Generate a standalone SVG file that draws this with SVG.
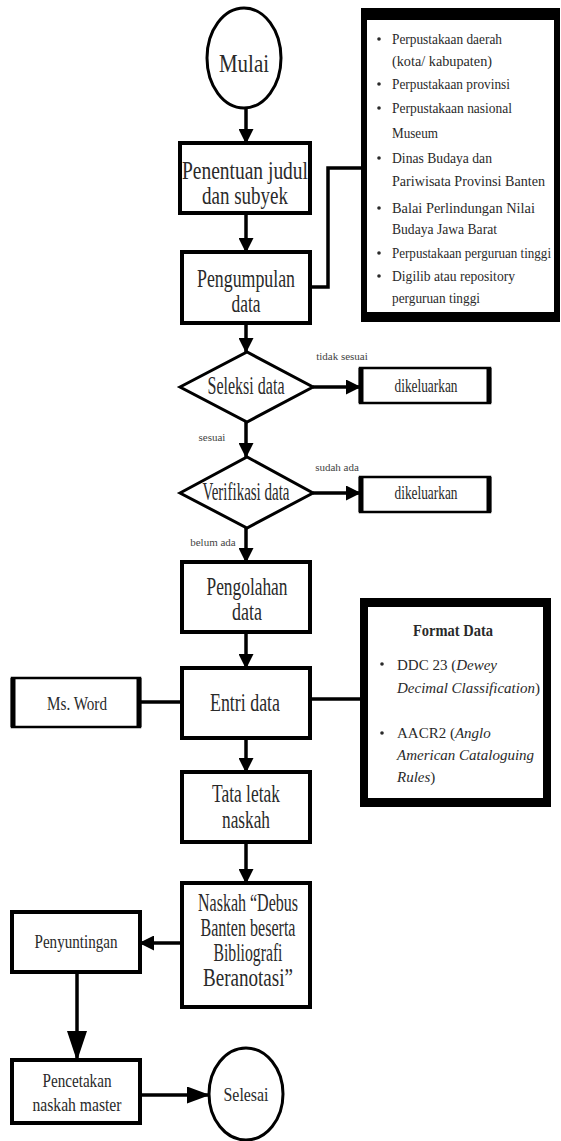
<svg xmlns="http://www.w3.org/2000/svg" width="561" height="1141" viewBox="0 0 561 1141">
<style>
.box{fill:#fff;stroke:#000;stroke-width:4}
.thin{fill:#fff;stroke:#000;stroke-width:2.5}
.side{stroke:#000;stroke-width:5}
.dia{fill:#fff;stroke:#000;stroke-width:3}
.ln{fill:none;stroke:#000;stroke-width:3.5}
.t{font-family:"Liberation Serif",serif;fill:#2a2a2a;text-anchor:middle}
.n{font-size:25px}
.s{font-size:19px}
.l{font-size:14px;text-anchor:start}
.f{font-size:15px;text-anchor:start}
.i{font-style:italic}
.lab{font-size:11px;fill:#444}
</style>
<defs>
<marker id="ah" viewBox="0 0 15 15" refX="14" refY="7.5" markerWidth="15" markerHeight="15" markerUnits="userSpaceOnUse" orient="auto"><path d="M0,0 L15,7.5 L0,15 z" fill="#000"/></marker>
<marker id="ahM" viewBox="0 0 23 17" refX="22" refY="8.5" markerWidth="23" markerHeight="17" markerUnits="userSpaceOnUse" orient="auto"><path d="M0,0 L23,8.5 L0,17 z" fill="#000"/></marker>
<marker id="ahL" viewBox="0 0 30 20" refX="29" refY="10" markerWidth="30" markerHeight="20" markerUnits="userSpaceOnUse" orient="auto"><path d="M0,0 L30,10 L0,20 z" fill="#000"/></marker>
</defs>

<g id="connectors">
<line class="ln" x1="246" y1="108" x2="246" y2="143" marker-end="url(#ah)"/>
<line class="ln" x1="246" y1="213" x2="246" y2="252" marker-end="url(#ah)"/>
<polyline class="ln" points="310,287 328,287 328,168 363,168"/>
<line class="ln" x1="246" y1="323" x2="246" y2="352" marker-end="url(#ah)"/>
<line class="ln" x1="313" y1="387" x2="360" y2="387" marker-end="url(#ah)"/>
<line class="ln" x1="246" y1="422" x2="246" y2="457" marker-end="url(#ah)"/>
<line class="ln" x1="313" y1="493" x2="360" y2="493" marker-end="url(#ah)"/>
<line class="ln" x1="246" y1="528" x2="246" y2="562" marker-end="url(#ah)"/>
<line class="ln" x1="246" y1="632" x2="246" y2="668" marker-end="url(#ah)"/>
<line class="ln" x1="140" y1="702" x2="182" y2="702"/>
<line class="ln" x1="310" y1="699" x2="362" y2="699"/>
<line class="ln" x1="246" y1="738" x2="246" y2="772" marker-end="url(#ah)"/>
<line class="ln" x1="246" y1="842" x2="246" y2="883" marker-end="url(#ah)"/>
<line class="ln" x1="182" y1="943" x2="140" y2="943" marker-end="url(#ah)"/>
<line class="ln" x1="77" y1="972" x2="77" y2="1060" marker-end="url(#ahL)"/>
<line class="ln" x1="140" y1="1095" x2="209" y2="1095" marker-end="url(#ahM)"/>
<text class="t lab" x="342" y="360">tidak sesuai</text>
<text class="t lab" x="212" y="441">sesuai</text>
<text class="t lab" x="337" y="471">sudah ada</text>
<text class="t lab" x="213" y="546">belum ada</text>
</g>

<g id="mulai">
<ellipse cx="244" cy="58" rx="37" ry="50" fill="#fff" stroke="#000" stroke-width="3"/>
<text class="t n" x="244" y="72" textLength="50" lengthAdjust="spacingAndGlyphs">Mulai</text>
</g>

<g id="penentuan">
<rect class="box" x="180" y="143" width="130" height="70"/>
<text class="t n" x="245" y="179" font-size="24" textLength="126" lengthAdjust="spacingAndGlyphs">Penentuan judul</text>
<text class="t n" x="245" y="204" font-size="24" textLength="86" lengthAdjust="spacingAndGlyphs">dan subyek</text>
</g>

<g id="pengumpulan">
<rect class="box" x="182" y="252" width="128" height="71"/>
<text class="t n" x="246" y="287" textLength="98" lengthAdjust="spacingAndGlyphs">Pengumpulan</text>
<text class="t n" x="246" y="312" textLength="29" lengthAdjust="spacingAndGlyphs">data</text>
</g>

<g id="sumber">
<rect x="361" y="8" width="199" height="314" fill="#000"/>
<rect x="367" y="20" width="187" height="292" fill="#fff"/>
<g fill="#2a2a2a">
<circle cx="379" cy="39" r="1.8"/>
<circle cx="379" cy="84" r="1.8"/>
<circle cx="379" cy="108" r="1.8"/>
<circle cx="379" cy="158" r="1.8"/>
<circle cx="379" cy="208" r="1.8"/>
<circle cx="379" cy="253" r="1.8"/>
<circle cx="379" cy="276" r="1.8"/>
</g>
<text class="t l" x="392" y="44" textLength="110" lengthAdjust="spacingAndGlyphs">Perpustakaan daerah</text>
<text class="t l" x="392" y="66" textLength="100" lengthAdjust="spacingAndGlyphs">(kota/ kabupaten)</text>
<text class="t l" x="392" y="89" textLength="118" lengthAdjust="spacingAndGlyphs">Perpustakaan provinsi</text>
<text class="t l" x="392" y="113" textLength="120" lengthAdjust="spacingAndGlyphs">Perpustakaan nasional</text>
<text class="t l" x="392" y="138" textLength="46" lengthAdjust="spacingAndGlyphs">Museum</text>
<text class="t l" x="392" y="163" textLength="100" lengthAdjust="spacingAndGlyphs">Dinas Budaya dan</text>
<text class="t l" x="392" y="186" textLength="153" lengthAdjust="spacingAndGlyphs">Pariwisata Provinsi Banten</text>
<text class="t l" x="392" y="213" textLength="143" lengthAdjust="spacingAndGlyphs">Balai Perlindungan Nilai</text>
<text class="t l" x="392" y="234" textLength="105" lengthAdjust="spacingAndGlyphs">Budaya Jawa Barat</text>
<text class="t l" x="392" y="258" font-size="13.5" textLength="159" lengthAdjust="spacingAndGlyphs">Perpustakaan perguruan tinggi</text>
<text class="t l" x="392" y="281" textLength="123" lengthAdjust="spacingAndGlyphs">Digilib atau repository</text>
<text class="t l" x="392" y="303" textLength="88" lengthAdjust="spacingAndGlyphs">perguruan tinggi</text>
</g>

<g id="seleksi">
<polygon class="dia" points="180,387 247,352 313,387 247,422"/>
<text class="t n" x="246" y="394" font-size="23" textLength="77" lengthAdjust="spacingAndGlyphs">Seleksi data</text>
</g>

<g id="dikeluarkan1">
<rect class="thin" x="360" y="368" width="130" height="35"/>
<line class="side" x1="361" y1="368" x2="361" y2="403"/>
<line class="side" x1="489" y1="368" x2="489" y2="403"/>
<text class="t s" x="426" y="392" textLength="63" lengthAdjust="spacingAndGlyphs">dikeluarkan</text>
</g>

<g id="verifikasi">
<polygon class="dia" points="180,493 247,457 313,493 247,528"/>
<text class="t n" x="246" y="500" font-size="23" textLength="87" lengthAdjust="spacingAndGlyphs">Verifikasi data</text>
</g>

<g id="dikeluarkan2">
<rect class="thin" x="360" y="477" width="130" height="35"/>
<line class="side" x1="361" y1="477" x2="361" y2="512"/>
<line class="side" x1="489" y1="477" x2="489" y2="512"/>
<text class="t s" x="426" y="499" textLength="63" lengthAdjust="spacingAndGlyphs">dikeluarkan</text>
</g>

<g id="pengolahan">
<rect class="box" x="182" y="562" width="128" height="70"/>
<text class="t n" x="247" y="595" textLength="81" lengthAdjust="spacingAndGlyphs">Pengolahan</text>
<text class="t n" x="247" y="620" textLength="30" lengthAdjust="spacingAndGlyphs">data</text>
</g>

<g id="msword">
<rect class="thin" x="12" y="678" width="128" height="49"/>
<line class="side" x1="13" y1="678" x2="13" y2="727"/>
<line class="side" x1="139" y1="678" x2="139" y2="727"/>
<text class="t s" x="77" y="710" font-size="21" textLength="60" lengthAdjust="spacingAndGlyphs">Ms. Word</text>
</g>

<g id="entri">
<rect class="box" x="182" y="668" width="128" height="70"/>
<text class="t n" x="245" y="711" textLength="70" lengthAdjust="spacingAndGlyphs">Entri data</text>
</g>

<g id="format">
<rect x="360" y="598" width="191" height="209" fill="#000"/>
<rect x="368" y="607" width="175" height="191" fill="#fff"/>
<text class="t" x="453" y="636" font-size="17" font-weight="bold" textLength="80" lengthAdjust="spacingAndGlyphs">Format Data</text>
<circle cx="382" cy="664" r="1.8" fill="#2a2a2a"/>
<circle cx="382" cy="733" r="1.8" fill="#2a2a2a"/>
<text class="t f" x="397" y="670">DDC 23 (<tspan class="i">Dewey</tspan></text>
<text class="t f" x="397" y="693"><tspan class="i">Decimal Classification</tspan>)</text>
<text class="t f" x="397" y="738">AACR2 (<tspan class="i">Anglo</tspan></text>
<text class="t f i" x="397" y="760">American Cataloguing</text>
<text class="t f" x="397" y="782"><tspan class="i">Rules</tspan>)</text>
</g>

<g id="tataletak">
<rect class="box" x="182" y="772" width="128" height="70"/>
<text class="t n" x="246" y="802" textLength="68" lengthAdjust="spacingAndGlyphs">Tata letak</text>
<text class="t n" x="246" y="828" textLength="48" lengthAdjust="spacingAndGlyphs">naskah</text>
</g>

<g id="naskah">
<rect class="box" x="182" y="883" width="128" height="124" stroke-width="5"/>
<text class="t n" x="248" y="911" textLength="100" lengthAdjust="spacingAndGlyphs">Naskah “Debus</text>
<text class="t n" x="248" y="936" textLength="95" lengthAdjust="spacingAndGlyphs">Banten beserta</text>
<text class="t n" x="248" y="961" textLength="69" lengthAdjust="spacingAndGlyphs">Bibliografi</text>
<text class="t n" x="248" y="986" textLength="90" lengthAdjust="spacingAndGlyphs">Beranotasi”</text>
</g>

<g id="penyuntingan">
<rect class="box" x="12" y="912" width="128" height="60"/>
<text class="t s" x="76" y="948" font-size="21" textLength="83" lengthAdjust="spacingAndGlyphs">Penyuntingan</text>
</g>

<g id="pencetakan">
<rect class="box" x="12" y="1060" width="128" height="63"/>
<text class="t s" x="77" y="1087" textLength="69" lengthAdjust="spacingAndGlyphs">Pencetakan</text>
<text class="t s" x="77" y="1111" textLength="89" lengthAdjust="spacingAndGlyphs">naskah master</text>
</g>

<g id="selesai">
<ellipse cx="246" cy="1094" rx="37" ry="46" fill="#fff" stroke="#000" stroke-width="3"/>
<text class="t s" x="246" y="1101" textLength="45" lengthAdjust="spacingAndGlyphs">Selesai</text>
</g>
</svg>
